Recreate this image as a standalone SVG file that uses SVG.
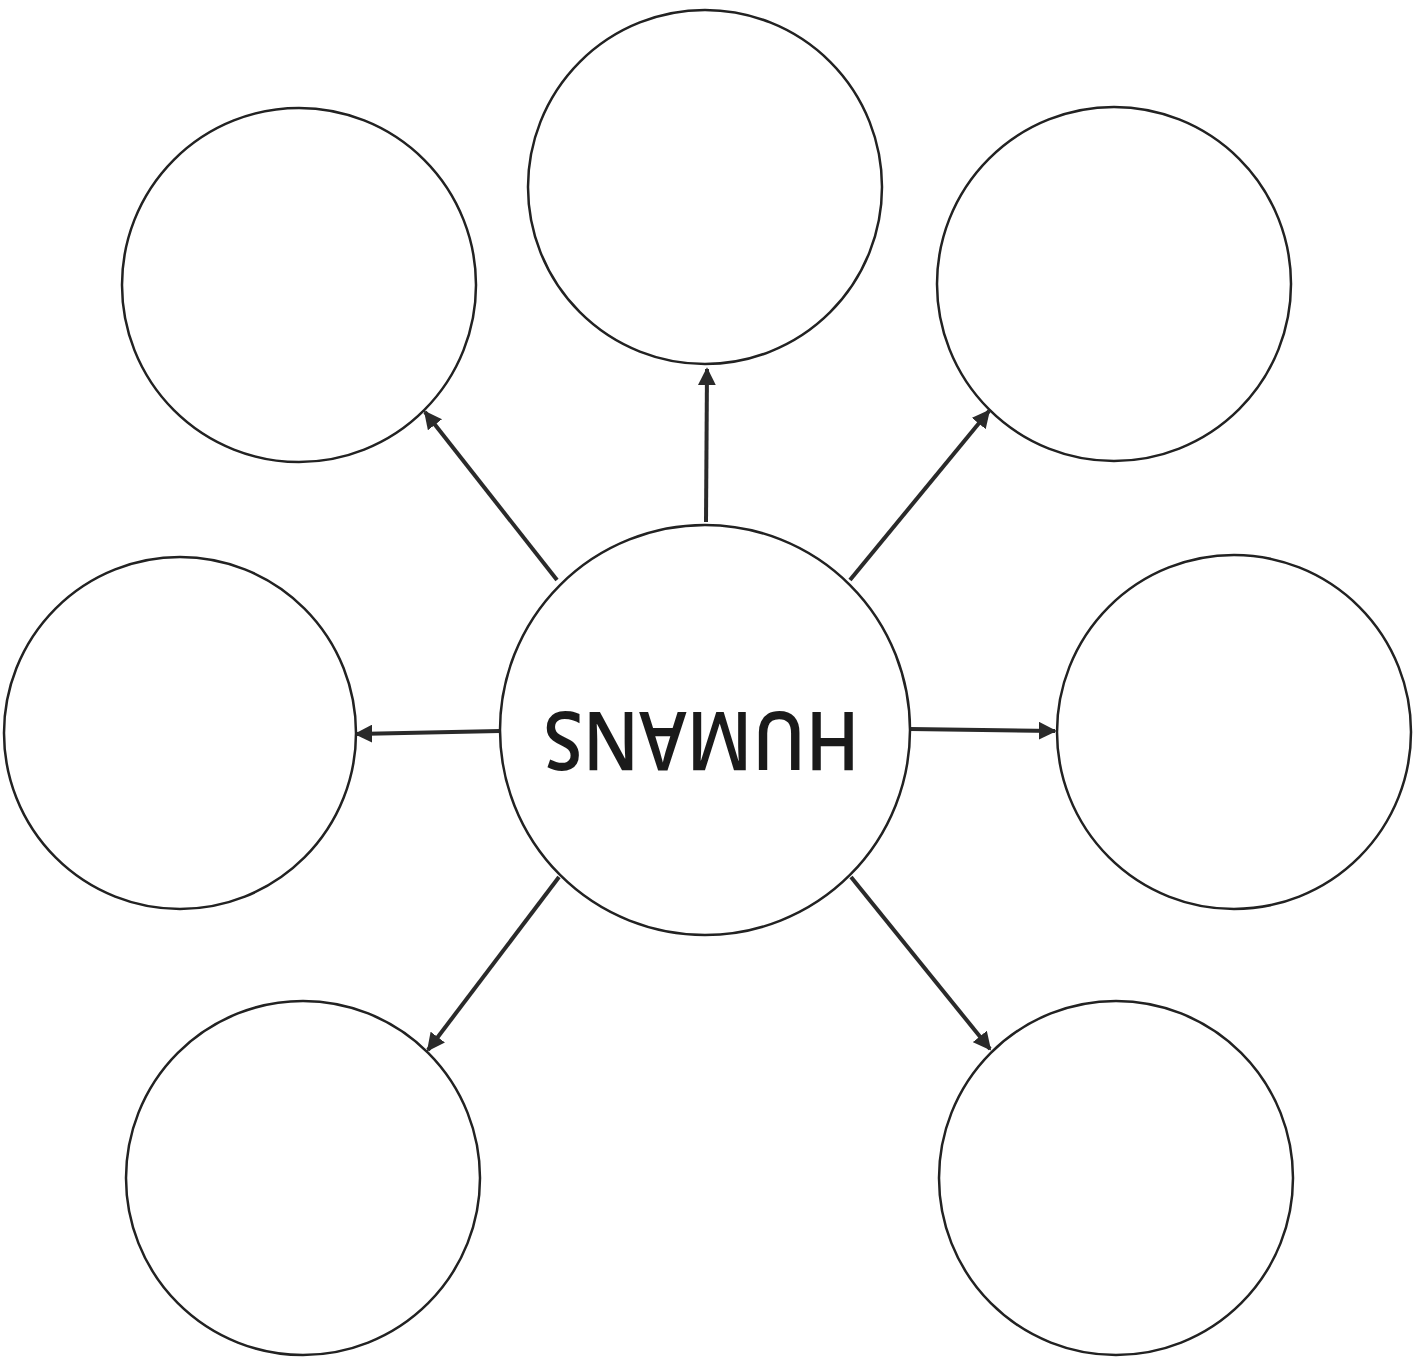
<svg xmlns="http://www.w3.org/2000/svg" width="1425" height="1362" viewBox="0 0 1425 1362">
<defs>
<style>
.n{fill:#fff;stroke:#222;stroke-width:2.5}
.c{stroke:#2a2a2a;stroke-width:4;fill:none;marker-end:url(#ah)}
.t{font-family:"Open Sans","Liberation Sans",sans-serif;font-size:82px;font-weight:600;fill:#1a1a1a}
</style>
<marker id="ah" viewBox="0 0 10 10" refX="9" refY="5" markerWidth="4.5" markerHeight="4.5" orient="auto" markerUnits="strokeWidth">
<path d="M0,0 L10,5 L0,10 Z" fill="#2a2a2a"/>
</marker>
</defs>
<rect width="1425" height="1362" fill="#fff"/>
<g id="connectors">
<line class="c" x1="706" y1="522" x2="707" y2="369"/>
<line class="c" x1="557" y1="580" x2="425" y2="412"/>
<line class="c" x1="850" y1="580" x2="989" y2="411"/>
<line class="c" x1="500" y1="731" x2="356" y2="734"/>
<line class="c" x1="910" y1="729" x2="1055" y2="731"/>
<line class="c" x1="559" y1="877" x2="428" y2="1050"/>
<line class="c" x1="851" y1="877" x2="990" y2="1049"/>
</g>
<g id="node-humans">
<circle class="n" cx="705" cy="730" r="205"/>
<text class="t" x="701.5" y="771" text-anchor="middle" textLength="316" lengthAdjust="spacingAndGlyphs" transform="rotate(180 701.5 741.5)">HUMANS</text>
</g>
<g id="node-top"><circle class="n" cx="705" cy="187" r="177"/></g>
<g id="node-top-left"><circle class="n" cx="299" cy="285" r="177"/></g>
<g id="node-top-right"><circle class="n" cx="1114" cy="284" r="177"/></g>
<g id="node-left"><circle class="n" cx="180" cy="733" r="176"/></g>
<g id="node-right"><circle class="n" cx="1234" cy="732" r="177"/></g>
<g id="node-bottom-left"><circle class="n" cx="303" cy="1178" r="177"/></g>
<g id="node-bottom-right"><circle class="n" cx="1116" cy="1178" r="177"/></g>
</svg>
